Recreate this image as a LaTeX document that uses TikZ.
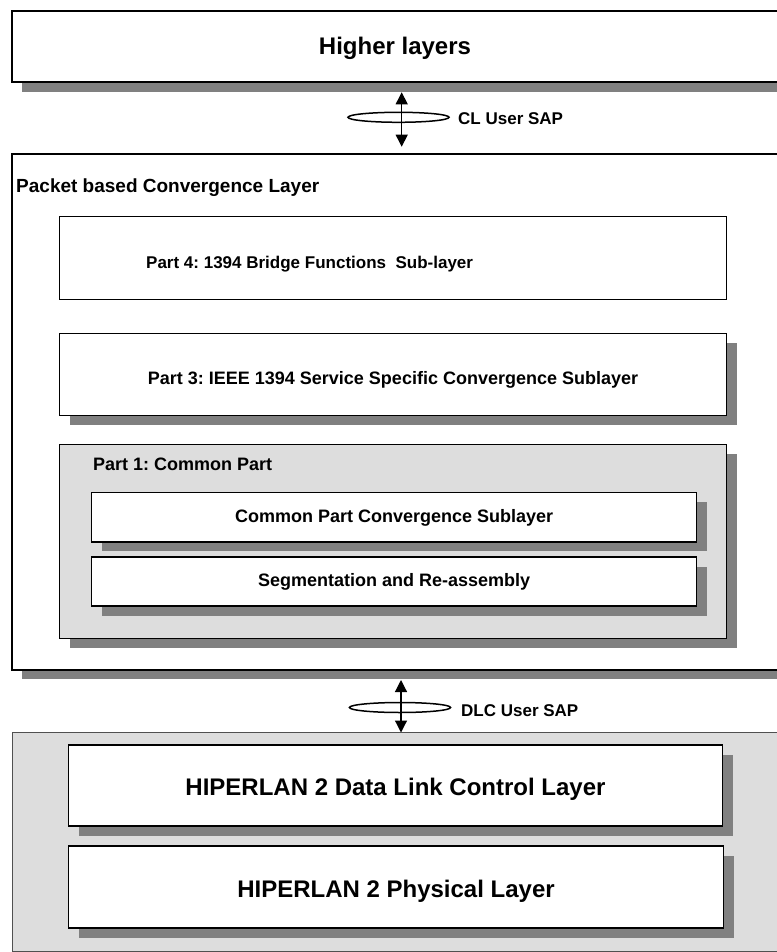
\documentclass[tikz,border=0pt]{standalone}
\usepackage{fontspec}
\setmainfont{Liberation Sans}
\usetikzlibrary{arrows.meta,shadows}

\definecolor{shade}{HTML}{808080}
\definecolor{panel}{HTML}{DDDDDD}
\definecolor{rim}{HTML}{505050}

\frenchspacing

\begin{document}
\begin{tikzpicture}[x=1pt,y=-1pt,
  layerbox/.style={draw=black, line width=1.4pt, fill=white, inner sep=0pt, outer sep=0pt},
  graybox/.style={layerbox, fill=panel},
  shadowbox/.style={general shadow={fill=shade, shadow xshift=10.5pt, shadow yshift=-9.5pt}},
  bigtxt/.style={inner sep=0pt, font=\bfseries\fontsize{24}{28}\selectfont, text height=17.2pt, text depth=0pt},
  midtxt/.style={inner sep=0pt, font=\bfseries\fontsize{18}{22}\selectfont, text height=12.9pt, text depth=0pt},
  smalltxt/.style={inner sep=0pt, font=\bfseries\fontsize{17}{21}\selectfont, text height=12.2pt, text depth=0pt},
  titletxt/.style={inner sep=0pt, font=\bfseries\fontsize{19}{23}\selectfont, text height=13.6pt, text depth=0pt},
  sapring/.style={line width=1.5pt, draw=black},
  saparrow/.style={line width=1.2pt, {Triangle[width=12pt,length=12pt]}-{Triangle[width=12pt,length=12pt]}}
]
\useasboundingbox (0,0) rectangle (776,952);

% ---- Higher layers ----
\node[layerbox, general shadow={fill=shade, shadow xshift=10pt, shadow yshift=-10pt},
      minimum width=766pt, minimum height=71pt] (higher) at (395,46.7) {};
\node[bigtxt] (highertxt) at (395,46) {Higher layers};

% ---- CL User SAP ----
\coordinate (clring) at (398.5,117.3);
\coordinate (cltop) at (401.7,92.3);
\coordinate (clbot) at (401.7,146.7);
\draw[sapring] (clring) ellipse [x radius=50.5, y radius=5];
\draw[saparrow] (cltop) -- (clbot);
\node[smalltxt, anchor=west] (cltxt) at (458,118) {CL User SAP};

% ---- Packet based Convergence Layer ----
\node[layerbox, general shadow={fill=shade, shadow xshift=10pt, shadow yshift=-9pt},
      minimum width=766pt, minimum height=516pt] (packet) at (395,412) {};
\node[titletxt, anchor=west] (packettxt) at (16,186) {Packet based Convergence Layer};

% Part 4 (no shadow)
\node[layerbox, minimum width=667pt, minimum height=82.6pt] (part4) at (393,258) {};
\node[smalltxt, anchor=west] (part4txt) at (146,262) {Part 4: 1394 Bridge Functions\ \ Sub-layer};

% Part 3
\node[layerbox, shadowbox, minimum width=667pt, minimum height=81.6pt] (part3) at (393,374.5) {};
\node[midtxt] (part3txt) at (393,378) {Part 3: IEEE 1394 Service Specific Convergence Sublayer};

% Part 1 with its two sublayers
\node[graybox, shadowbox, minimum width=667.4pt, minimum height=193.6pt] (part1) at (393,541.5) {};
\node[midtxt, anchor=west] (part1txt) at (93,464) {Part 1: Common Part};

\node[layerbox, shadowbox, minimum width=605pt, minimum height=49.3pt] (cpcs) at (394.2,517.3) {};
\node[midtxt] (cpcstxt) at (394.2,516) {Common Part Convergence Sublayer};

\node[layerbox, shadowbox, minimum width=605pt, minimum height=49pt] (sar) at (394.2,581.5) {};
\node[midtxt] (sartxt) at (394.2,580.5) {Segmentation and Re-assembly};

% ---- DLC User SAP ----
\coordinate (dlcring) at (400,707.5);
\coordinate (dlctop) at (401,680);
\coordinate (dlcbot) at (401,732.5);
\draw[sapring] (dlcring) ellipse [x radius=50.5, y radius=5];
\draw[saparrow] (dlctop) -- (dlcbot);
\node[smalltxt, anchor=west] (dlctxt) at (461,710) {DLC User SAP};

% ---- HIPERLAN 2 ----
\node[draw=rim, line width=1pt, fill=panel, inner sep=0pt, outer sep=0pt,
      minimum width=766pt, minimum height=219pt] (hiperlan) at (395,841.5) {};

\node[layerbox, shadowbox, minimum width=654.5pt, minimum height=81pt] (dlc) at (395.5,785.5) {};
\node[bigtxt] (dlctxt2) at (395.5,786.7) {HIPERLAN 2 Data Link Control Layer};

\node[layerbox, shadowbox, minimum width=655.5pt, minimum height=82pt] (phy) at (396,887) {};
\node[bigtxt] (phytxt) at (396,889) {HIPERLAN 2 Physical Layer};

\end{tikzpicture}
\end{document}
